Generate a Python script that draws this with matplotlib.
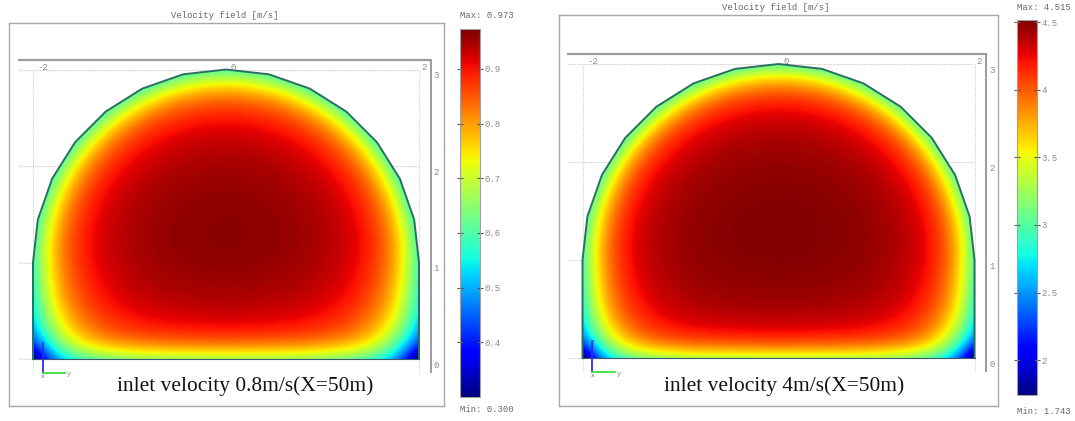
import numpy as np
import matplotlib
matplotlib.use("Agg")
import matplotlib.pyplot as plt
from matplotlib.patches import Polygon
from matplotlib.colors import Normalize
from matplotlib.cm import ScalarMappable

# data
captions = ["inlet velocity 0.8m/s(X=50m)", "inlet velocity 4m/s(X=50m)"]
vel_min = [0.300, 1.743]
vel_max = [0.973, 4.515]
cbar_ticks = [[0.4, 0.5, 0.6, 0.7, 0.8, 0.9], [2, 2.5, 3, 3.5, 4, 4.5]]
cbar_labels = [["0.4", "0.5", "0.6", "0.7", "0.8", "0.9"], ["2", "2.5", "3", "3.5", "4", "4.5"]]
wall_ratio = [0.62, 0.675]      # speed on arch / side walls relative to max
floor_ratio = [0.70, 0.75]      # speed on the floor relative to max
corner_drop = [0.30, 0.26]      # extra loss in the two floor corners
near_share = [0.60, 0.62]       # part of the rise that happens close to the wall
wall_layer = [(0.30, 0.8), (0.27, 0.68)]    # near / far thickness (m), walls
floor_layer = [(0.20, 0.6), (0.18, 0.5)]    # near / far thickness (m), floor
corner_layer = [0.28, 0.26]

# tunnel section (m)
half_width = 2.0
wall_height = 1.0
y_ticks = [-2, 0, 2]
z_ticks = [0, 1, 2, 3]

W, H = 1075, 421
fig = plt.figure(figsize=(W / 100, H / 100), dpi=100)

# pixel layout of each panel: outer box, origin, scale, colorbar box, title pos
panels = [
    dict(box=(9, 23, 444, 406), cx=226, z0=359, s=96.5, cbar=(460, 29, 480, 397),
         title=(225, 15), maxy=15, miny=410, cap=(245, 386)),
    dict(box=(559, 15, 998, 406), cx=778.5, z0=358, s=98.0, cbar=(1017, 20, 1037, 395),
         title=(776, 7), maxy=7, miny=411, cap=(784, 386)),
]

GRAY = "#8a8a8a"
MONO = "Liberation Mono"


def fig_rect(x0, y0, x1, y1):
    return [x0 / W, 1 - y1 / H, (x1 - x0) / W, (y1 - y0) / H]


def tunnel_outline(n=14):
    ang = np.linspace(0, np.pi, n + 1)
    arc = np.column_stack([half_width * np.cos(ang), wall_height + half_width * np.sin(ang)])
    return np.vstack([[half_width, 0], arc, [-half_width, 0]])


def rise(d, base, share, layers):
    near, far = layers
    return base + (1 - base) * (share * np.tanh(d / near) + (1 - share) * np.tanh(d / far))


for i, p in enumerate(panels):
    x0, y0, x1, y1 = p["box"]
    cx, z0, s = p["cx"], p["z0"], p["s"]
    ax = fig.add_axes(fig_rect(x0, y0, x1, y1))
    ax.set_xlim((x0 - cx) / s, (x1 - cx) / s)
    ax.set_ylim((z0 - y1) / s, (z0 - y0) / s)
    ax.set_xticks([])
    ax.set_yticks([])
    for sp in ax.spines.values():
        sp.set_color("#a8a8a8")
        sp.set_linewidth(1.0)

    # dotted grid of the 3D box
    top = 3.1
    right = 2.12
    ax.plot([-2.15, 2.0], [3, 3], ls=(0, (1, 1)), color="#c8c8c8", lw=0.8, zorder=1)
    for z in [0, 1, 2]:
        ax.plot([-2.15, 2.0], [z, z], ls=(0, (1, 1)), color="#c8c8c8", lw=0.8, zorder=1)
    for y in [-2, 2]:
        ax.plot([y, y], [-0.13, 3], ls=(0, (1, 1)), color="#d0d0d0", lw=0.8, zorder=1)
    ax.plot([-2.15, right], [top, top], color="#9c9c9c", lw=1.6, zorder=2)
    ax.plot([right, right], [top, -0.13], color="#9c9c9c", lw=1.4, zorder=2)

    # velocity field
    yy, zz = np.meshgrid(np.linspace(-2, 2, 401), np.linspace(0, 3, 301))
    r = np.where(zz >= wall_height, np.hypot(yy, zz - wall_height), np.abs(yy))
    d_wall = np.clip(half_width - r, 0, None)
    d_corner = np.hypot(half_width - np.abs(yy), zz)
    f = rise(d_wall, wall_ratio[i], near_share[i], wall_layer[i])
    g = rise(zz, floor_ratio[i], near_share[i], floor_layer[i])
    c = 1 - corner_drop[i] * np.exp(-d_corner / corner_layer[i])
    u = vel_max[i] * f * g * c

    outline = tunnel_outline()
    clip = Polygon(outline, closed=True, transform=ax.transData)
    im = ax.imshow(u, extent=(-2, 2, 0, 3), origin="lower", cmap="jet",
                   vmin=vel_min[i], vmax=vel_max[i], interpolation="bilinear",
                   aspect="auto", zorder=3)
    im.set_clip_path(clip)
    ax.plot(outline[:, 0], outline[:, 1], color="#2b6f5e", lw=1.4, zorder=4)
    ax.plot([-2, 2], [0, 0], color="#3a5a6a", lw=0.8, zorder=4)

    # tick labels
    for y in y_ticks:
        ax.text(y + 0.05, top - 0.03, str(y), fontsize=6.5, family=MONO, color=GRAY,
                ha="left" if y < 2 else "center", va="top", zorder=5)
    for z in z_ticks:
        ax.text(right + 0.03, z - 0.02, str(z), fontsize=6.5, family=MONO, color=GRAY,
                ha="left", va="top", zorder=5)

    # axis triad
    ox, oz = -1.9, -0.14
    ax.plot([ox, ox], [oz, oz + 0.3], color="#2a2aff", lw=1.3, zorder=5)
    ax.plot([ox, ox + 0.23], [oz, oz], color="#3ee03e", lw=1.3, zorder=5)
    ax.text(ox, oz + 0.3, "z", fontsize=5, color="#3050a0", ha="center", va="center", zorder=6)
    ax.text(ox + 0.27, oz - 0.02, "y", fontsize=5, color="#70a070", ha="center", va="center", zorder=6)
    ax.text(ox, oz - 0.04, "x", fontsize=4.5, color="#707070", ha="center", va="center", zorder=6)

    # caption
    ax.text((p["cap"][0] - cx) / s, (z0 - p["cap"][1]) / s, captions[i],
            fontsize=15.4, family="Liberation Serif", color="#111111",
            ha="center", va="center", zorder=6)

    # title
    fig.text(p["title"][0] / W, 1 - p["title"][1] / H, "Velocity field [m/s]",
             fontsize=6.4, family=MONO, color="#666666", ha="center", va="center")

    # colorbar
    cb0, cb1, cb2, cb3 = p["cbar"]
    cax = fig.add_axes(fig_rect(cb0, cb1, cb2, cb3))
    sm = ScalarMappable(norm=Normalize(vel_min[i], vel_max[i]), cmap="jet")
    cb = fig.colorbar(sm, cax=cax, ticks=cbar_ticks[i])
    cb.ax.set_yticklabels(cbar_labels[i])
    cb.outline.set_edgecolor("#a0a0a0")
    cb.outline.set_linewidth(0.8)
    cax.tick_params(axis="y", direction="inout", length=4, width=0.8, color="#555555",
                    labelsize=6.5, labelcolor=GRAY, left=True, right=True, pad=1)
    for t in cax.get_yticklabels():
        t.set_family(MONO)
    fig.text(cb0 / W, 1 - p["maxy"] / H, "Max: %.3f" % vel_max[i], fontsize=6.4,
             family=MONO, color="#666666", ha="left", va="center")
    fig.text(cb0 / W, 1 - p["miny"] / H, "Min: %.3f" % vel_min[i], fontsize=6.4,
             family=MONO, color="#666666", ha="left", va="center")

fig.savefig("out.png", dpi=100)
